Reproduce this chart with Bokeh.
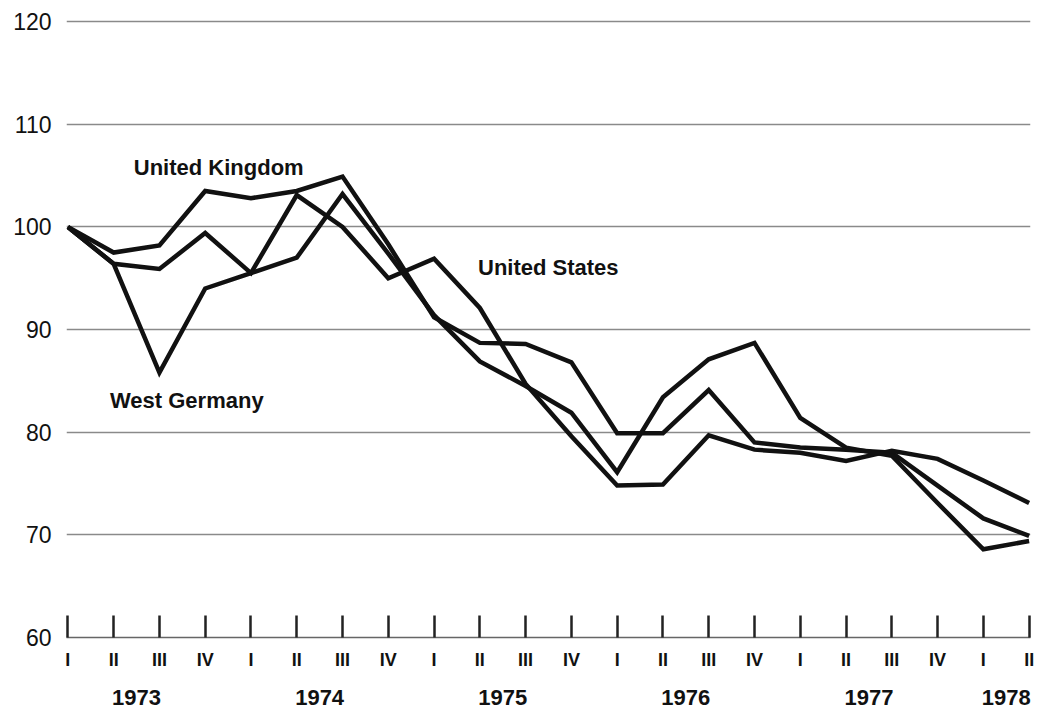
from bokeh.plotting import figure
from bokeh.models import Range1d, FixedTicker, LinearAxis, Label
from bokeh.embed import file_html
from bokeh.resources import INLINE

# ---- data ----
quarter_labels = ["I", "II", "III", "IV"] * 5 + ["I", "II"]
years = ["1973", "1974", "1975", "1976", "1977", "1978"]
year_quarters = [4, 4, 4, 4, 4, 2]
y_ticks = [60, 70, 80, 90, 100, 110, 120]

united_kingdom = [100, 97.5, 98.2, 103.5, 102.8, 103.5, 104.9, 98.3, 91.2, 88.7, 88.6, 86.8,
                  79.9, 79.9, 84.1, 79.0, 78.5, 78.3, 78.0, 74.8, 71.6, 69.9]
united_states = [100, 96.4, 95.9, 99.4, 95.5, 103.1, 100.0, 95.0, 96.9, 92.1, 84.7, 79.6,
                 74.8, 74.9, 79.7, 78.3, 78.0, 77.2, 78.2, 77.4, 75.3, 73.1]
west_germany = [100, 96.4, 85.8, 94.0, 95.5, 97.0, 103.2, 97.4, 91.4, 86.9, 84.5, 81.9,
                76.1, 83.4, 87.1, 88.7, 81.4, 78.5, 77.7, 73.1, 68.6, 69.4]

series = [united_kingdom, united_states, west_germany]
x = list(range(len(quarter_labels)))

# year label positions: centre of the quarters in each year
year_pos = []
start = 0
for n in year_quarters:
    year_pos.append(start + (n - 1) / 2.0)
    start += n

FONT = "Liberation Sans"

p = figure(width=1040, height=719,
           x_range=Range1d(-0.03, len(x) - 1 + 0.03),
           y_range=Range1d(60, 120.3),
           output_backend="svg", toolbar_location=None,
           min_border_left=66, min_border_right=10,
           min_border_top=18, min_border_bottom=82)
p.outline_line_color = None
p.background_fill_color = "white"
p.border_fill_color = "white"

# quarter axis
xa = p.xaxis[0]
xa.ticker = FixedTicker(ticks=x)
xa.major_label_overrides = {i: q for i, q in enumerate(quarter_labels)}
xa.major_tick_in = 22
xa.major_tick_out = 0
xa.major_tick_line_width = 2.5
xa.major_tick_line_color = "#222222"
xa.minor_tick_line_color = None
xa.axis_line_color = "#666666"
xa.axis_line_width = 1.5
xa.major_label_text_font = FONT
xa.major_label_text_font_style = "bold"
xa.major_label_text_font_size = "18px"
xa.major_label_text_color = "#111111"
xa.major_label_standoff = 12

# year axis
ya2 = LinearAxis(ticker=FixedTicker(ticks=year_pos),
                 major_label_overrides={pos: yr for pos, yr in zip(year_pos, years)})
ya2.axis_line_color = None
ya2.major_tick_line_color = None
ya2.minor_tick_line_color = None
ya2.major_tick_out = 0
ya2.major_tick_in = 0
ya2.major_label_text_font = FONT
ya2.major_label_text_font_style = "bold"
ya2.major_label_text_font_size = "22px"
ya2.major_label_text_color = "#111111"
ya2.major_label_standoff = 17
p.add_layout(ya2, "below")

# value axis
ya = p.yaxis[0]
ya.ticker = FixedTicker(ticks=y_ticks)
ya.axis_line_color = None
ya.major_tick_line_color = None
ya.minor_tick_line_color = None
ya.major_label_text_font = FONT
ya.major_label_text_font_size = "23px"
ya.major_label_text_color = "#111111"
ya.major_label_standoff = 9

p.xgrid.visible = False
p.ygrid.ticker = FixedTicker(ticks=y_ticks[1:])
p.ygrid.grid_line_color = "#8a8a8a"
p.ygrid.grid_line_width = 1.4

for s in series:
    p.line(x, s, line_color="#111111", line_width=4.5, line_join="miter")

labels = [("United Kingdom", 1.44, 105.8),
          ("United States", 8.96, 96.0),
          ("West Germany", 0.92, 83.1)]
for txt, lx, ly in labels:
    p.add_layout(Label(x=lx, y=ly, text=txt, text_font=FONT, text_font_style="bold",
                       text_font_size="22px", text_color="#111111",
                       text_baseline="alphabetic", text_align="left"))

open("out.html", "w").write(file_html(p, INLINE))
